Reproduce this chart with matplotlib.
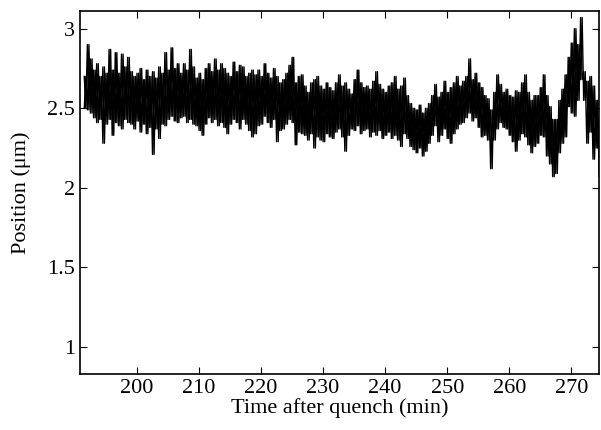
import numpy as np
import matplotlib
matplotlib.use("Agg")
import matplotlib.pyplot as plt

# upper / lower extent of the trace, every 0.5 min from 191.5 min
t_start = 191.5
t_step = 0.5

hi = [2.70, 2.90, 2.81, 2.74, 2.78, 2.70, 2.76, 2.72, 2.87, 2.74,
      2.85, 2.72, 2.84, 2.76, 2.82, 2.73, 2.70, 2.72, 2.75, 2.68,
      2.74, 2.70, 2.73, 2.69, 2.76, 2.72, 2.85, 2.74, 2.88, 2.75,
      2.78, 2.72, 2.78, 2.74, 2.87, 2.76, 2.69, 2.72, 2.68, 2.75,
      2.78, 2.73, 2.81, 2.74, 2.78, 2.75, 2.72, 2.70, 2.79, 2.73,
      2.77, 2.76, 2.70, 2.72, 2.74, 2.71, 2.74, 2.70, 2.78, 2.72,
      2.69, 2.75, 2.70, 2.66, 2.68, 2.72, 2.77, 2.82, 2.66, 2.70,
      2.71, 2.64, 2.60, 2.66, 2.68, 2.70, 2.64, 2.62, 2.66, 2.63,
      2.61, 2.66, 2.71, 2.64, 2.66, 2.62, 2.59, 2.68, 2.74, 2.66,
      2.63, 2.64, 2.62, 2.67, 2.73, 2.65, 2.62, 2.60, 2.64, 2.66,
      2.70, 2.62, 2.64, 2.69, 2.58, 2.53, 2.50, 2.49, 2.52, 2.47,
      2.50, 2.53, 2.58, 2.65, 2.57, 2.60, 2.67, 2.60, 2.63, 2.66,
      2.70, 2.64, 2.67, 2.70, 2.81, 2.68, 2.72, 2.66, 2.63, 2.58,
      2.56, 2.49, 2.60, 2.71, 2.65, 2.60, 2.62, 2.58, 2.57, 2.61,
      2.60, 2.66, 2.71, 2.60, 2.55, 2.58, 2.58, 2.63, 2.71, 2.58,
      2.51, 2.43, 2.43, 2.55, 2.62, 2.71, 2.82, 2.91, 3.00, 2.90,
      3.07, 2.73, 2.67, 2.70, 2.64, 2.55, 2.41]

lo = [2.50, 2.49, 2.47, 2.44, 2.41, 2.43, 2.28, 2.40, 2.43, 2.33,
      2.41, 2.39, 2.37, 2.43, 2.41, 2.40, 2.37, 2.42, 2.35, 2.40,
      2.34, 2.38, 2.21, 2.37, 2.31, 2.40, 2.39, 2.43, 2.45, 2.42,
      2.41, 2.44, 2.45, 2.41, 2.43, 2.40, 2.39, 2.36, 2.33, 2.40,
      2.44, 2.41, 2.43, 2.39, 2.41, 2.38, 2.34, 2.40, 2.43, 2.41,
      2.37, 2.43, 2.40, 2.36, 2.32, 2.34, 2.39, 2.40, 2.45, 2.41,
      2.38, 2.43, 2.29, 2.36, 2.37, 2.40, 2.43, 2.41, 2.27, 2.35,
      2.34, 2.33, 2.30, 2.34, 2.25, 2.32, 2.30, 2.29, 2.34, 2.32,
      2.31, 2.35, 2.37, 2.32, 2.23, 2.33, 2.37, 2.36, 2.39, 2.34,
      2.36, 2.37, 2.32, 2.35, 2.33, 2.36, 2.31, 2.33, 2.35, 2.31,
      2.33, 2.30, 2.26, 2.34, 2.31, 2.26, 2.24, 2.22, 2.25, 2.20,
      2.23, 2.28, 2.33, 2.39, 2.29, 2.33, 2.37, 2.31, 2.28, 2.34,
      2.37, 2.40, 2.41, 2.44, 2.47, 2.42, 2.44, 2.38, 2.32, 2.33,
      2.30, 2.12, 2.30, 2.37, 2.41, 2.38, 2.37, 2.33, 2.29, 2.23,
      2.30, 2.34, 2.32, 2.27, 2.22, 2.26, 2.28, 2.33, 2.32, 2.20,
      2.15, 2.07, 2.09, 2.22, 2.28, 2.32, 2.51, 2.47, 2.45, 2.55,
      2.68, 2.55, 2.28, 2.35, 2.18, 2.25, 2.07]

x_ticks = [200, 210, 220, 230, 240, 250, 260, 270]
y_ticks = [1, 1.5, 2, 2.5, 3]

n = min(len(hi), len(lo))
t = t_start + t_step * np.arange(n)
hi_a = np.array(hi[:n])
lo_a = np.array(lo[:n])
# zigzag between the top and bottom of the band, two phases so it fills in
tx = np.column_stack([t, t + t_step / 2]).ravel()
ty1 = np.column_stack([hi_a, lo_a]).ravel()
ty2 = np.column_stack([lo_a, hi_a]).ravel()

plt.rcParams["font.family"] = ["Liberation Serif", "DejaVu Serif"]

fig = plt.figure(figsize=(6.01, 4.30), dpi=100)
ax = fig.add_axes([0.133, 0.130, 0.864, 0.844])
ax.plot(tx, ty1, color="black", lw=1.0)
ax.plot(tx, ty2, color="black", lw=1.0)

ax.set_xlim(190.8, 274.5)
ax.set_ylim(0.83, 3.11)
ax.set_xticks(x_ticks)
ax.set_yticks(y_ticks)
ax.set_yticklabels(["1", "1.5", "2", "2.5", "3"])
ax.tick_params(direction="in", top=True, right=True, length=5, width=0.8,
               labelsize=16)
for s in ax.spines.values():
    s.set_linewidth(1.2)

ax.set_xlabel("Time after quench (min)", fontsize=16, labelpad=0)
ax.set_ylabel("Position (μm)", fontsize=16, labelpad=12)

fig.savefig("out.png", dpi=100)
